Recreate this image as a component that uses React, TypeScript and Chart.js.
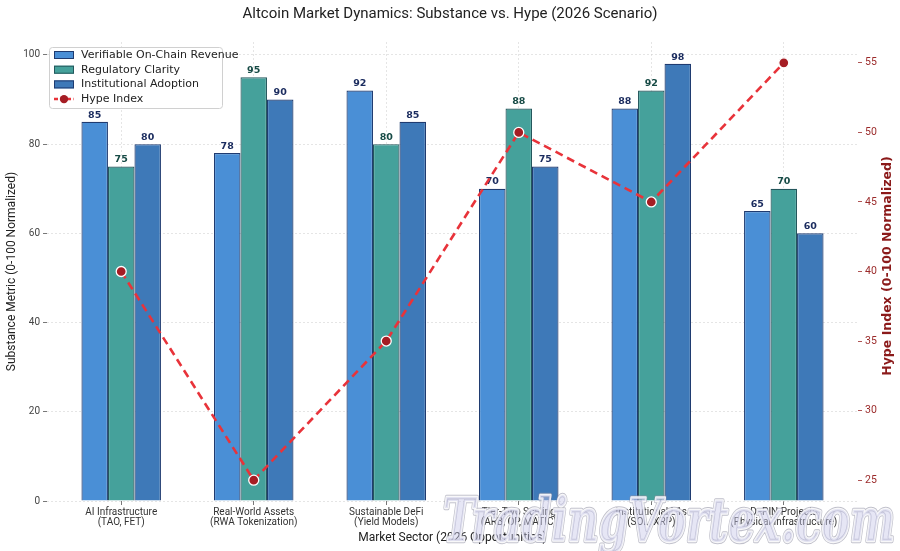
import React, { useEffect, useRef } from "react";
import { Chart, registerables } from "chart.js";

Chart.register(...registerables);

const categories: string[][] = [
  ["AI Infrastructure", "(TAO, FET)"],
  ["Real-World Assets", "(RWA Tokenization)"],
  ["Sustainable DeFi", "(Yield Models)"],
  ["Tier-Two Scaling", "(ARB, OP, MATIC)"],
  ["Institutional L1s", "(SOL, XRP)"],
  ["DePIN Projects", "(Physical Infrastructure)"],
];
const seriesNames = [
  "Verifiable On-Chain Revenue",
  "Regulatory Clarity",
  "Institutional Adoption",
  "Hype Index",
];
const verifiableRevenue = [85, 78, 92, 70, 88, 65];
const regulatoryClarity = [75, 95, 80, 88, 92, 70];
const institutionalAdoption = [80, 90, 85, 75, 98, 60];
const hypeIndex = [40, 25, 35, 50, 45, 55];
const leftTicks = [0, 20, 40, 60, 80, 100];
const rightTicks = [25, 30, 35, 40, 45, 50, 55];

const TITLE = "Altcoin Market Dynamics: Substance vs. Hype (2026 Scenario)";
const X_TITLE = "Market Sector (2026 Opportunities)";
const Y_TITLE = "Substance Metric (0-100 Normalized)";
const Y2_TITLE = "Hype Index (0-100 Normalized)";
const WATERMARK = "TradingVortex.com";

const barColors = ["#4a8fd6", "#45a19b", "#3e79b8"];
const barBorders = ["#1f3b70", "#24575c", "#1f3b70"];
const labelColors = ["#1a2b5e", "#164a45", "#1a2b5e"];
const hypeLine = "#e8333a";
const hypePoint = "#a51d24";

const SANS = "Roboto, 'Open Sans', sans-serif";
const DEJAVU = "'DejaVu Sans', sans-serif";

export default function App() {
  const ref = useRef<HTMLCanvasElement | null>(null);

  useEffect(() => {
    const canvas = ref.current;
    if (!canvas) return;
    const barSeries = [verifiableRevenue, regulatoryClarity, institutionalAdoption];

    const valueLabels = {
      id: "valueLabels",
      afterDatasetDraw(chart: any, args: any) {
        const ds = chart.data.datasets[args.index];
        if (ds.type !== "bar") return;
        const ctx = chart.ctx;
        const meta = chart.getDatasetMeta(args.index);
        ctx.save();
        ctx.font = `bold 9.5px ${DEJAVU}`;
        ctx.fillStyle = labelColors[args.index];
        ctx.textAlign = "center";
        ctx.textBaseline = "bottom";
        meta.data.forEach((el: any, i: number) => {
          ctx.fillText(String(barSeries[args.index][i]), el.x, el.y - 2);
        });
        ctx.restore();
      },
    };

    const extras = {
      id: "extras",
      afterDraw(chart: any) {
        const ctx = chart.ctx;
        const area = chart.chartArea;
        // right axis title
        ctx.save();
        ctx.translate(888, 266);
        ctx.rotate(-Math.PI / 2);
        ctx.font = `bold 12.5px ${DEJAVU}`;
        ctx.fillStyle = "#8b1a1a";
        ctx.textAlign = "center";
        ctx.textBaseline = "middle";
        ctx.fillText(Y2_TITLE, 0, 0);
        ctx.restore();

        // legend
        const lx = area.left + 2;
        const ly = area.top + 5;
        const lw = 173;
        const lh = 61;
        ctx.save();
        ctx.fillStyle = "rgba(255,255,255,0.85)";
        ctx.strokeStyle = "#d0d0d0";
        ctx.lineWidth = 1;
        ctx.beginPath();
        (ctx as any).roundRect(lx + 0.5, ly + 0.5, lw, lh, 3);
        ctx.fill();
        ctx.stroke();
        ctx.font = `11px ${DEJAVU}`;
        ctx.textBaseline = "middle";
        ctx.textAlign = "left";
        for (let i = 0; i < 4; i++) {
          const cy = ly + 8 + i * 14.7;
          if (i < 3) {
            ctx.fillStyle = barColors[i];
            ctx.fillRect(lx + 5, cy - 4, 20, 8);
            ctx.strokeStyle = barBorders[i];
            ctx.lineWidth = 1;
            ctx.strokeRect(lx + 5.5, cy - 3.5, 19, 7);
          } else {
            ctx.strokeStyle = hypeLine;
            ctx.lineWidth = 2.5;
            ctx.setLineDash([4, 2.5]);
            ctx.beginPath();
            ctx.moveTo(lx + 5, cy);
            ctx.lineTo(lx + 25, cy);
            ctx.stroke();
            ctx.setLineDash([]);
            ctx.fillStyle = hypePoint;
            ctx.beginPath();
            ctx.arc(lx + 15, cy, 4.2, 0, Math.PI * 2);
            ctx.fill();
          }
          ctx.fillStyle = "#222";
          ctx.fillText(seriesNames[i], lx + 32, cy);
        }
        ctx.restore();

        // watermark
        ctx.save();
        ctx.font = `italic bold 60px 'DejaVu Serif', serif`;
        ctx.textAlign = "left";
        ctx.textBaseline = "alphabetic";
        ctx.lineJoin = "round";
        ctx.strokeStyle = "rgba(140,140,160,0.55)";
        ctx.lineWidth = 4.5;
        ctx.strokeText(WATERMARK, 443, 541, 452);
        ctx.strokeStyle = "rgba(255,255,255,0.9)";
        ctx.lineWidth = 2.5;
        ctx.strokeText(WATERMARK, 443, 541, 452);
        ctx.fillStyle = "rgba(200,200,232,0.45)";
        ctx.fillText(WATERMARK, 443, 541, 452);
        ctx.restore();
      },
    };

    const barData = (arr: number[]) => arr.map((v, i) => ({ x: i, y: v }));

    const chart = new Chart(canvas, {
      data: {
        datasets: [
          ...barSeries.map((arr, k) => ({
            type: "bar" as const,
            label: seriesNames[k],
            data: barData(arr),
            backgroundColor: barColors[k],
            borderColor: barBorders[k],
            borderWidth: 1.2,
            borderSkipped: "bottom" as const,
            yAxisID: "y",
            xAxisID: "x",
            order: 2,
            categoryPercentage: 0.6,
            barPercentage: 1.0,
          })),
          {
            type: "line" as const,
            label: seriesNames[3],
            data: barData(hypeIndex),
            borderColor: hypeLine,
            borderWidth: 2.6,
            borderDash: [8, 5],
            pointRadius: 5,
            pointBackgroundColor: hypePoint,
            pointBorderColor: "#ffffff",
            pointBorderWidth: 1.3,
            tension: 0,
            fill: false,
            yAxisID: "y1",
            xAxisID: "x",
            order: 0,
          },
        ],
      },
      options: {
        responsive: false,
        animation: false,
        maintainAspectRatio: false,
        layout: { padding: 0 },
        plugins: {
          legend: { display: false },
          tooltip: { enabled: false },
          title: {
            display: true,
            text: TITLE,
            color: "#222",
            font: { family: SANS, size: 15, weight: "normal", lineHeight: 1.2 },
            padding: { top: 5, bottom: 19 },
          },
        },
        scales: {
          x: {
            type: "linear",
            min: -0.56,
            max: 5.56,
            offset: false,
            afterBuildTicks: (s: any) => {
              s.ticks = categories.map((_, i) => ({ value: i }));
            },
            afterFit: (s: any) => {
              s.height = 50;
            },
            ticks: {
              callback: (v: any) => categories[Math.round(Number(v))] ?? "",
              color: "#333",
              font: { family: SANS, size: 10, lineHeight: 1.05 },
              padding: 2,
              maxRotation: 0,
              autoSkip: false,
            },
            grid: {
              offset: false,
              color: "rgba(200,200,200,0.6)",
              lineWidth: 0.8,
              drawTicks: true,
              tickLength: 4,
              tickColor: "#555",
              tickWidth: 0.8,
              tickBorderDash: [],
            },
            border: { display: false, dash: [2, 2] },
            title: {
              display: true,
              text: X_TITLE,
              color: "#222",
              font: { family: SANS, size: 12, lineHeight: 1.2 },
              padding: { top: 0, bottom: 6 },
            },
          },
          y: {
            type: "linear",
            position: "left",
            min: 0,
            max: 102.9,
            afterBuildTicks: (s: any) => {
              s.ticks = leftTicks.map((v) => ({ value: v }));
            },
            afterFit: (s: any) => {
              s.width = 47;
            },
            ticks: {
              color: "#444",
              font: { family: SANS, size: 10 },
              padding: 3,
            },
            grid: {
              color: "rgba(200,200,200,0.6)",
              lineWidth: 0.8,
              drawTicks: true,
              tickLength: 4,
              tickColor: "#555",
              tickWidth: 0.8,
              tickBorderDash: [],
            },
            border: { display: false, dash: [2, 2] },
            title: {
              display: true,
              text: Y_TITLE,
              color: "#222",
              font: { family: SANS, size: 12, lineHeight: 1.2 },
              padding: { top: 5, bottom: 0 },
            },
          },
          y1: {
            type: "linear",
            position: "right",
            min: 23.5,
            max: 56.5,
            afterBuildTicks: (s: any) => {
              s.ticks = rightTicks.map((v) => ({ value: v }));
            },
            afterFit: (s: any) => {
              s.width = 42;
            },
            ticks: {
              color: "#9b2a2a",
              font: { family: SANS, size: 10.5 },
              padding: 3,
            },
            grid: {
              drawOnChartArea: false,
              drawTicks: true,
              tickLength: 4,
              tickColor: "#9b2a2a",
              tickWidth: 0.8,
              tickBorderDash: [],
            },
            border: { display: false },
          },
        },
      } as any,
      plugins: [valueLabels, extras],
    });
    return () => chart.destroy();
  }, []);

  return (
    <div style={{ position: "fixed", left: 0, top: 0, width: 900, height: 551, background: "#fff" }}>
      <canvas ref={ref} width={900} height={551} style={{ width: 900, height: 551, display: "block" }} />
    </div>
  );
}
